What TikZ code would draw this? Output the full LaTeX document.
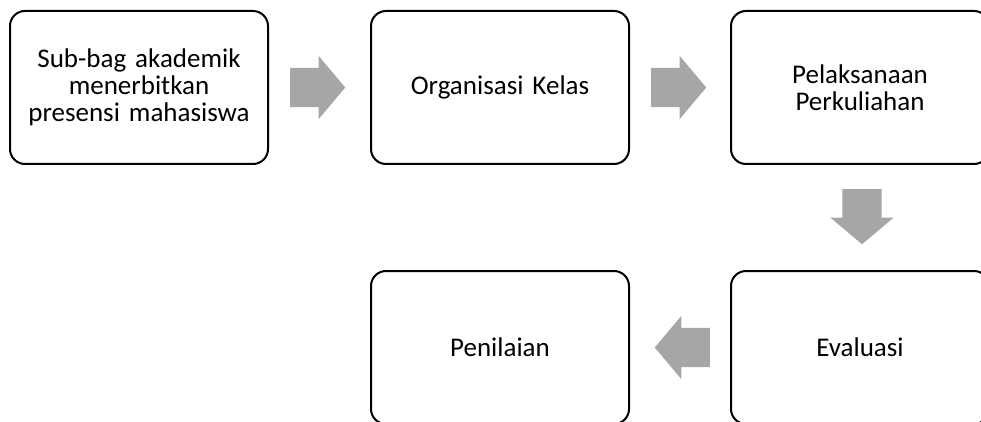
\documentclass[tikz,border=0pt]{standalone}
\usepackage{fontspec}
\setmainfont{Carlito}
\usetikzlibrary{positioning,shapes.arrows,calc}
\definecolor{arrowgray}{HTML}{A6A6A6}
\tikzstyle{stepblock} = [rectangle, rounded corners=15pt, minimum width=258pt, minimum height=153pt, text centered, draw=black, line width=2pt, text width=240pt, font=\fontsize{27}{27}\selectfont]
\tikzstyle{flowarrow} = [single arrow, fill=arrowgray, draw=none, minimum height=55pt, minimum width=63pt, single arrow head extend=12pt, single arrow tip angle=100, inner xsep=0pt, inner ysep=19.5pt, anchor=tail]
\tikzstyle{flowarrowdown} = [flowarrow, shape border rotate=270, inner xsep=19.5pt, inner ysep=0pt]

\begin{document}
\begin{tikzpicture}[x=1pt, y=1pt, node distance=102pt]
				\clip (0,0) rectangle (981,-422);
				% Place nodes
				\node [stepblock] (presensi) at (139,-87.5) {Sub-bag akademik\\ menerbitkan\\ presensi mahasiswa};
				\node [stepblock, right = 101pt of presensi] (kelas) {Organisasi Kelas};
				\node [stepblock, right = 100pt of kelas] (kuliah) {Pelaksanaan\\ Perkuliahan};
				\node [stepblock, below = 105pt of kuliah] (evaluasi) {Evaluasi};
				\node [stepblock, left = 100pt of evaluasi] (nilai) {Penilaian};
				% Place arrows
				\node [flowarrow] (panah1) at ($(presensi.east)+(21,0)$) {};
				\node [flowarrow] (panah2) at ($(kelas.east)+(21,0)$) {};
				\node [flowarrowdown] (panah3) at ($(kuliah.south)+(2,-24)$) {};
				\node [flowarrow, shape border rotate=180] (panah4) at ($(evaluasi.west)+(-20,0)$) {};
\end{tikzpicture}
\end{document}
